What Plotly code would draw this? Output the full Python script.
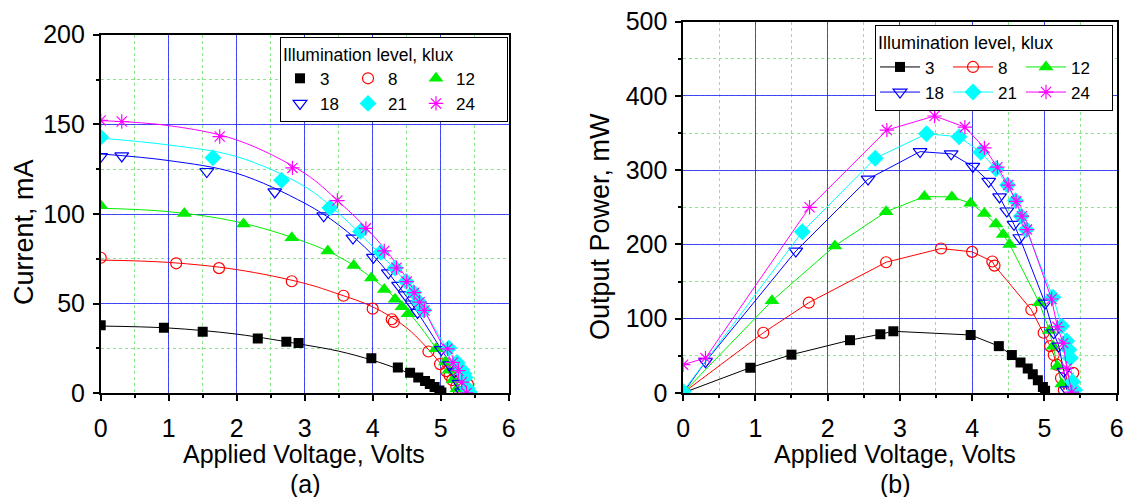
import plotly.graph_objects as go

# ---------------- data ----------------
levels = ["3", "8", "12", "18", "21", "24"]

# 3 klux
v_3 = [0, 0.93, 1.50, 2.31, 2.73, 2.91, 3.98, 4.37, 4.55, 4.67, 4.77, 4.84, 4.91, 4.98, 5.01]
i_3 = [38.0, 36.5, 34.3, 30.6, 28.8, 28.0, 19.5, 14.4, 11.4, 8.8, 6.9, 5.2, 3.5, 1.6, 0.5]
p_3 = [0, 34, 51.5, 71, 79, 83, 78, 63, 51, 41, 33, 25, 17, 8, 3]
# 8 klux
v_8 = [0, 1.11, 1.74, 2.81, 3.57, 4.00, 4.28, 4.31, 4.82, 4.99, 5.08, 5.13, 5.17, 5.23, 5.27, 5.40]
i_8 = [75.6, 72.5, 69.8, 62.5, 54.4, 47.2, 41.3, 39.8, 23.3, 16.3, 12.4, 9.9, 7.4, 3.8, 0.8, 5.0]
p_8 = [0, 81, 121.5, 176, 194.5, 190, 177, 171.5, 112, 81, 63, 51, 38, 20, 4, 27]
# 12 klux
v_12 = [0, 1.23, 2.10, 2.81, 3.34, 3.72, 3.98, 4.17, 4.33, 4.43, 4.52, 4.93, 5.07, 5.12, 5.18, 5.24]
i_12 = [104.7, 100.3, 94.4, 86.8, 79.3, 71.3, 64.3, 57.9, 52.5, 48.3, 44.3, 24.8, 17.5, 12.8, 7.5, 2.5]
p_12 = [0, 124, 198, 244, 264.5, 264, 255.5, 241.5, 227.5, 213.5, 200, 121.5, 84, 63, 36, 12]
# 18 klux
v_18 = [0, 0.31, 1.56, 2.56, 3.28, 3.71, 4.01, 4.23, 4.38, 4.48, 4.58, 4.66, 5.01, 5.13, 5.20, 5.27, 5.31]
i_18 = [132.0, 132.4, 123.7, 112.3, 99.0, 86.6, 75.8, 67.2, 60.2, 54.9, 49.8, 45.1, 24.4, 15.8, 12.0, 5.5, 0.8]
p_18 = [0, 42, 191, 288, 325, 322, 305, 285, 264, 245, 227, 209, 121, 81, 63, 29, 4]
# 21 klux
v_21 = [0, 1.65, 2.66, 3.37, 3.82, 4.12, 4.33, 4.49, 4.60, 4.68, 4.75, 5.12, 5.24, 5.31, 5.34, 5.36, 5.39, 5.42]
i_21 = [142.8, 131.4, 118.8, 103.5, 90.3, 78.6, 69.9, 62.4, 56.3, 50.9, 46.4, 25.2, 17.2, 13.2, 10.9, 8.8, 2.8, 0.7]
p_21 = [2, 217, 316, 349, 345, 324, 302, 280, 259, 238, 220, 129, 90, 70, 58, 47, 15, 4]
# 24 klux
v_24 = [0, 0.31, 1.75, 2.82, 3.48, 3.90, 4.17, 4.35, 4.50, 4.61, 4.69, 4.76, 5.10, 5.18, 5.26, 5.31, 5.38]
i_24 = [152.2, 151.6, 143.2, 125.7, 107.5, 92.0, 79.4, 70.0, 62.3, 56.1, 50.8, 46.2, 24.8, 17.2, 12.7, 6.2, 0.2]
p_24 = [38, 47, 250, 354, 373, 358, 330, 304, 280, 258, 238, 220, 126.5, 89, 67, 33, 1]

# fitted curves drawn in panel (a)
vfit_3 = [0, 1, 2, 3, 3.5, 4, 4.4, 4.7, 4.9, 5.03]
ifit_3 = [37.5, 36.4, 33.0, 27.0, 23.5, 18.4, 13.2, 8.5, 4.5, 0]
vfit_8 = [0, 1, 2, 3, 3.5, 4, 4.5, 5, 5.3, 5.38]
ifit_8 = [74.3, 73.0, 69.0, 61.3, 55.3, 48.2, 36.5, 16.6, 2.6, 0]
vfit_12 = [0, 1, 2, 3, 3.5, 4, 4.5, 5, 5.25, 5.32]
ifit_12 = [103.2, 101.3, 95.7, 84.5, 76.2, 64.0, 46.4, 21.2, 5.4, 0]
vfit_18 = [0, 1, 2, 3, 3.5, 4, 4.5, 5, 5.25, 5.38]
ifit_18 = [133.5, 129.8, 122.7, 106.0, 93.9, 77.1, 53.8, 25.0, 10.0, 0]
vfit_21 = [0, 1, 2, 3, 3.5, 4, 4.5, 5, 5.3, 5.45]
ifit_21 = [142.3, 138.5, 132.0, 115.3, 100.4, 81.8, 61.3, 30.5, 12.0, 0]
vfit_24 = [0, 1, 2, 3, 3.5, 4, 4.5, 5, 5.3, 5.43]
ifit_24 = [152.1, 149.3, 141.3, 122.7, 106.9, 88.3, 64.1, 28.7, 9.0, 0]

x_ticks = [0, 1, 2, 3, 4, 5, 6]
i_ticks = [0, 50, 100, 150, 200]
p_ticks = [0, 100, 200, 300, 400, 500]

V = [v_3, v_8, v_12, v_18, v_21, v_24]
I = [i_3, i_8, i_12, i_18, i_21, i_24]
P = [p_3, p_8, p_12, p_18, p_21, p_24]
VF = [vfit_3, vfit_8, vfit_12, vfit_18, vfit_21, vfit_24]
IF = [ifit_3, ifit_8, ifit_12, ifit_18, ifit_21, ifit_24]

# ---------------- styles ----------------
colors = ["#000000", "#ff0000", "#00ee00", "#0000ff", "#00ffff", "#ff00ff"]
symbols = ["square", "circle-open", "triangle-up", "triangle-down-open", "diamond", "asterisk-open"]
sizes = [10, 11, 13, 12, 13, 12]
FONT = "Liberation Sans, Arial, sans-serif"

W, H = 1123, 497

def fx(px):
    return px / W

def fy(py):
    return 1 - py / H

fig = go.Figure()

# panel (a): fitted lines
for k in range(6):
    fig.add_trace(go.Scatter(x=VF[k], y=IF[k], mode="lines", line=dict(color=colors[k], width=1, shape="spline"),
                             showlegend=False, hoverinfo="skip", xaxis="x", yaxis="y"))

# panel (a): markers
for k in range(6):
    filled = not symbols[k].endswith("open")
    fig.add_trace(go.Scatter(
        x=V[k], y=I[k], mode="markers", name=levels[k],
        marker=dict(symbol=symbols[k], size=sizes[k], color=colors[k],
                    line=dict(color=colors[k], width=0 if filled else 1.2)),
        legend="legend", legendgroup="a%d" % (k % 3),
        legendwidth=(46 if k % 3 == 2 else 23),
        xaxis="x", yaxis="y"))

# panel (b): lines + markers
for k in range(6):
    filled = not symbols[k].endswith("open")
    fig.add_trace(go.Scatter(
        x=V[k], y=P[k], mode="lines+markers", name=levels[k],
        line=dict(color=colors[k], width=1),
        marker=dict(symbol=symbols[k], size=sizes[k], color=colors[k],
                    line=dict(color=colors[k], width=0 if filled else 1.2)),
        legend="legend2", legendgroup="b%d" % (k % 3),
        legendwidth=(36 if k % 3 == 2 else 18),
        xaxis="x2", yaxis="y2"))

grid_major = "rgba(40,40,255,0.85)"
grid_minor = "#88e888"

def xaxis_style(domain, anchor):
    return dict(domain=domain, anchor=anchor, range=[0, 6], tickvals=x_ticks, ticks="outside", ticklen=6,
                tickwidth=1.5, tickcolor="black", showline=True, linecolor="black", linewidth=1.5, mirror=True,
                showgrid=True, gridcolor=grid_major, gridwidth=1, zeroline=False, automargin=False,
                ticklabeloverflow="allow",
                tickfont=dict(size=25, color="black", family=FONT), ticklabelstandoff=6,
                minor=dict(dtick=0.5, tick0=0, ticks="outside", ticklen=3, tickcolor="black", showgrid=True,
                           gridcolor=grid_minor, griddash="dot", gridwidth=1))

def yaxis_style(domain, anchor, rng, ticks, minor):
    return dict(domain=domain, anchor=anchor, range=rng, tickvals=ticks, ticks="outside", ticklen=6,
                tickwidth=1.5, tickcolor="black", showline=True, linecolor="black", linewidth=1.5, mirror=True,
                showgrid=True, gridcolor=grid_major, gridwidth=1, zeroline=False, automargin=False,
                ticklabeloverflow="allow",
                tickfont=dict(size=25, color="black", family=FONT), ticklabelstandoff=3,
                minor=dict(dtick=minor, tick0=0, ticks="outside", ticklen=3, tickcolor="black", showgrid=True,
                           gridcolor=grid_minor, griddash="dot", gridwidth=1))

def ann(text, x, y, size, angle=0):
    return dict(text=text, x=fx(x), y=fy(y), xref="paper", yref="paper", xanchor="center",
                yanchor="middle", textangle=angle, showarrow=False, font=dict(size=size, family=FONT, color="black"))

fig.update_layout(
    template="none",
    width=W, height=H, margin=dict(l=0, r=0, t=0, b=0, autoexpand=False),
    paper_bgcolor="white", plot_bgcolor="white",
    font=dict(family=FONT, color="black"),
    xaxis=xaxis_style([fx(100.7), fx(508.7)], "y"),
    yaxis=yaxis_style([fy(393.3), fy(34.7)], "x", [0, 200], i_ticks, 25),
    xaxis2=xaxis_style([fx(683.1), fx(1116.6)], "y2"),
    yaxis2=yaxis_style([fy(392.9), fy(21.7)], "x2", [0, 500], p_ticks, 50),
    legend=dict(x=fx(280), y=fy(37), xanchor="left", yanchor="top", orientation="h",
                traceorder="grouped", bgcolor="white", bordercolor="black", borderwidth=1,
                font=dict(size=17, family=FONT, color="black"),
                title=dict(text="Illumination level, klux", side="top", font=dict(size=17.5, family=FONT))),
    legend2=dict(x=fx(875), y=fy(25), xanchor="left", yanchor="top", orientation="h",
                 traceorder="grouped", bgcolor="white", bordercolor="black", borderwidth=1, itemwidth=40,
                 font=dict(size=17, family=FONT, color="black"),
                 title=dict(text="Illumination level, klux", side="top", font=dict(size=18, family=FONT))),
    annotations=[
        ann("Current, mA", 24, 232, 27, -90),
        ann("Output Power, mW", 600, 227, 27, -90),
        ann("Applied Voltage, Volts", 304, 454, 25),
        ann("Applied Voltage, Volts", 895, 454, 25),
        ann("(a)", 305, 484, 25),
        ann("(b)", 895, 484, 25),
    ],
)

# remove the page's default body margin so the figure fills the window exactly
fig.write_html("out.html", config={"displayModeBar": False},
               post_script="document.body.style.margin='0';document.body.style.overflow='hidden';")
